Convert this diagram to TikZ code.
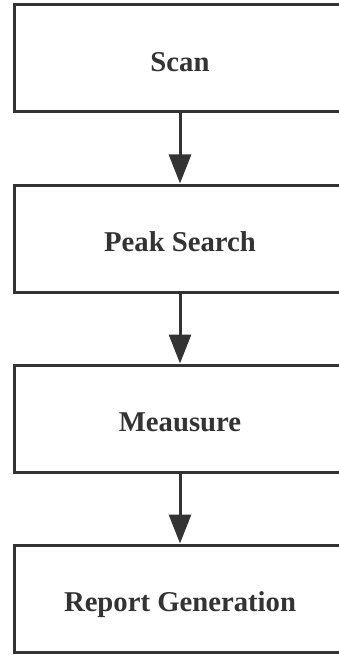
\documentclass[tikz,border=0pt]{standalone}
\usepackage{fontspec}
\setmainfont{Liberation Serif}
\usetikzlibrary{arrows.meta}
\definecolor{ink}{HTML}{333333}
\tikzset{
  stepbox/.style={draw=ink, line width=3pt, rectangle, minimum width=332pt, minimum height=107pt,
    inner sep=0pt, text=ink, font=\fontsize{28.7pt}{30pt}\selectfont\bfseries,
    text height=26pt, text depth=0pt},
  flow/.style={draw=ink, line width=3pt, -{Triangle[width=22pt,length=29pt]}}
}
\begin{document}
\begin{tikzpicture}
\useasboundingbox (0pt,0pt) rectangle (339pt,-655pt);
\clip (0pt,0pt) rectangle (339pt,-655pt);
\fill[white] (0pt,0pt) rectangle (339pt,-655pt);
\node[stepbox] (scan)   at (180pt,-58.5pt)  {Scan};
\node[stepbox] (peak)   at (180pt,-238.5pt) {Peak Search};
\node[stepbox] (meas)   at (180pt,-418.5pt) {Meausure};
\node[stepbox] (report) at (180pt,-598.5pt) {Report Generation};
\draw[flow] (scan.south) -- (peak.north);
\draw[flow] (peak.south) -- (meas.north);
\draw[flow] (meas.south) -- (report.north);
\end{tikzpicture}
\end{document}
